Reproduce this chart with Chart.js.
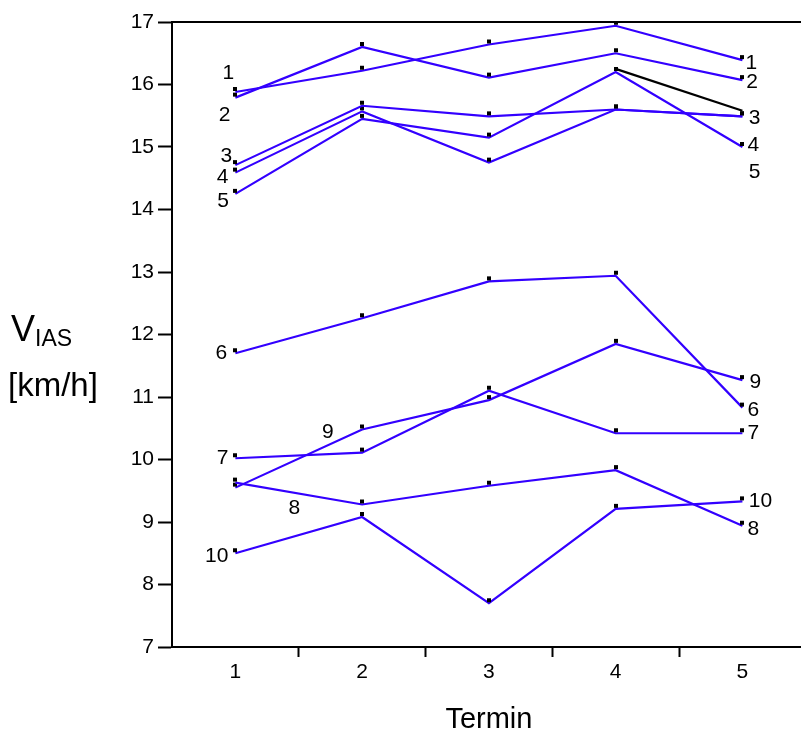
<!DOCTYPE html>
<html>
<head>
<meta charset="utf-8">
<script src="https://cdn.jsdelivr.net/npm/chart.js@4.4.1/dist/chart.umd.min.js"></script>
<style>
  html, body { margin: 0; padding: 0; background: #fff; overflow: hidden; }
  canvas { display: block; }
</style>
</head>
<body>
<canvas id="chart" width="812" height="742"></canvas>
<script>
// Termin on x, V_IAS [km/h] per series
const termini = [1, 2, 3, 4, 5];
const s1 = [15.88, 16.22, 16.64, 16.94, 16.39];
const s2 = [15.79, 16.60, 16.11, 16.50, 16.07];
const s3 = [14.71, 15.66, 15.49, 15.60, 15.49];
const s4 = [14.59, 15.57, 14.75, 15.60, 15.49];
const s5 = [14.25, 15.45, 15.15, 16.20, 15.00];
const s6 = [11.70, 12.26, 12.85, 12.94, 10.83];
const s7 = [10.02, 10.11, 11.10, 10.42, 10.42];
const s8 = [9.63, 9.28, 9.58, 9.83, 8.94];
const s9 = [9.55, 10.48, 10.95, 11.85, 11.27];
const s10 = [8.50, 9.08, 7.70, 9.21, 9.33];
// extra black segment between Termin 4 and 5
const sBlack = [null, null, null, 16.25, 15.58];

const yTicks = [7, 8, 9, 10, 11, 12, 13, 14, 15, 16, 17];

// series numbers written next to the lines: [text, termin, value, align]
const seriesLabels = [
  ['1', 0.99, 16.18, 'right'], ['2', 0.96, 15.51, 'right'], ['3', 0.975, 14.86, 'right'],
  ['4', 0.945, 14.51, 'right'], ['5', 0.95, 14.14, 'right'], ['6', 0.935, 11.70, 'right'],
  ['7', 0.945, 10.02, 'right'], ['10', 0.945, 8.46, 'right'],
  ['9', 1.73, 10.44, 'center'], ['8', 1.465, 9.22, 'center'],
  ['1', 5.025, 16.34, 'left'], ['2', 5.03, 16.04, 'left'], ['3', 5.05, 15.46, 'left'],
  ['4', 5.04, 15.03, 'left'], ['5', 5.05, 14.60, 'left'], ['9', 5.055, 11.24, 'left'],
  ['6', 5.04, 10.79, 'left'], ['7', 5.04, 10.42, 'left'], ['10', 5.05, 9.34, 'left'],
  ['8', 5.04, 8.89, 'left']
];

const FONT = '"Liberation Sans", Arial, sans-serif';
const BLUE = '#3300ff';

// small black square sitting just above each vertex
const marker = document.createElement('canvas');
marker.width = 4;
marker.height = 12;
const mctx = marker.getContext('2d');
mctx.fillStyle = '#000';
mctx.fillRect(0, 1, 4, 4);

function pts(arr) {
  return termini.map((t, i) => ({ x: t, y: arr[i] }));
}

const seriesList = [s1, s2, s3, s4, s5, s6, s7, s8, s9, s10];
const datasets = seriesList.map((s, i) => ({
  label: String(i + 1),
  data: pts(s),
  borderColor: BLUE,
  borderWidth: 2.2,
  pointStyle: marker,
  pointRadius: 2,
  tension: 0,
  fill: false
}));
datasets.push({
  label: 'black',
  data: pts(sBlack),
  borderColor: '#000',
  borderWidth: 2.2,
  pointRadius: 0,
  tension: 0,
  fill: false
});

const topLine = {
  id: 'topLine',
  afterDraw(chart) {
    const { ctx, chartArea } = chart;
    ctx.save();
    ctx.strokeStyle = '#000';
    ctx.lineWidth = 2;
    ctx.beginPath();
    ctx.moveTo(chartArea.left - 1, chartArea.top);
    ctx.lineTo(chartArea.right, chartArea.top);
    ctx.stroke();
    ctx.restore();
  }
};

const lineLabels = {
  id: 'lineLabels',
  afterDatasetsDraw(chart) {
    const { ctx, scales: { x, y } } = chart;
    ctx.save();
    ctx.fillStyle = '#000';
    ctx.font = '21px ' + FONT;
    ctx.textBaseline = 'middle';
    seriesLabels.forEach(([txt, lx, ly, align]) => {
      ctx.textAlign = align;
      ctx.fillText(txt, x.getPixelForValue(lx), y.getPixelForValue(ly));
    });
    ctx.restore();
  }
};

const yTitle = {
  id: 'yTitle',
  afterDraw(chart) {
    const { ctx } = chart;
    ctx.save();
    ctx.fillStyle = '#000';
    ctx.textBaseline = 'alphabetic';
    ctx.textAlign = 'left';
    ctx.font = '36px ' + FONT;
    ctx.fillText('V', 11, 341);
    const w = ctx.measureText('V').width;
    ctx.font = '23px ' + FONT;
    ctx.fillText('IAS', 11 + w, 346);
    ctx.font = '33px ' + FONT;
    ctx.fillText('[km/h]', 8, 396);
    ctx.restore();
  }
};

new Chart(document.getElementById('chart'), {
  type: 'line',
  data: { datasets },
  options: {
    responsive: false,
    animation: false,
    events: [],
    layout: { padding: { top: 22, left: 0, right: 0, bottom: 0 } },
    plugins: { legend: { display: false }, tooltip: { enabled: false } },
    scales: {
      x: {
        type: 'linear',
        min: 0.5,
        max: 5.5,
        afterBuildTicks(scale) {
          const ticks = [];
          termini.forEach((t, i) => {
            ticks.push({ value: t });
            if (i < termini.length - 1) ticks.push({ value: (t + termini[i + 1]) / 2 });
          });
          scale.ticks = ticks;
        },
        afterFit(scale) { scale.height = 95; },
        grid: {
          drawOnChartArea: false,
          tickLength: 10,
          tickWidth: 2,
          tickColor: (c) => (c.tick && termini.includes(c.tick.value)) ? 'rgba(0,0,0,0)' : '#000'
        },
        border: { color: '#000', width: 2 },
        ticks: {
          autoSkip: false,
          maxRotation: 0,
          padding: 3,
          color: '#000',
          font: { family: FONT, size: 21 },
          callback: (v) => termini.includes(v) ? String(v) : ''
        },
        title: {
          display: true,
          text: 'Termin',
          color: '#000',
          font: { family: FONT, size: 29 },
          padding: { top: 0, bottom: 5 }
        }
      },
      y: {
        min: 7,
        max: 17,
        afterBuildTicks(scale) { scale.ticks = yTicks.map(v => ({ value: v })); },
        afterFit(scale) { scale.width = 172; },
        grid: { drawOnChartArea: false, tickLength: 14, tickWidth: 2, tickColor: '#000' },
        border: { color: '#000', width: 2 },
        ticks: {
          padding: 4,
          color: '#000',
          font: { family: FONT, size: 21 }
        }
      }
    }
  },
  plugins: [topLine, lineLabels, yTitle]
});
</script>
</body>
</html>
